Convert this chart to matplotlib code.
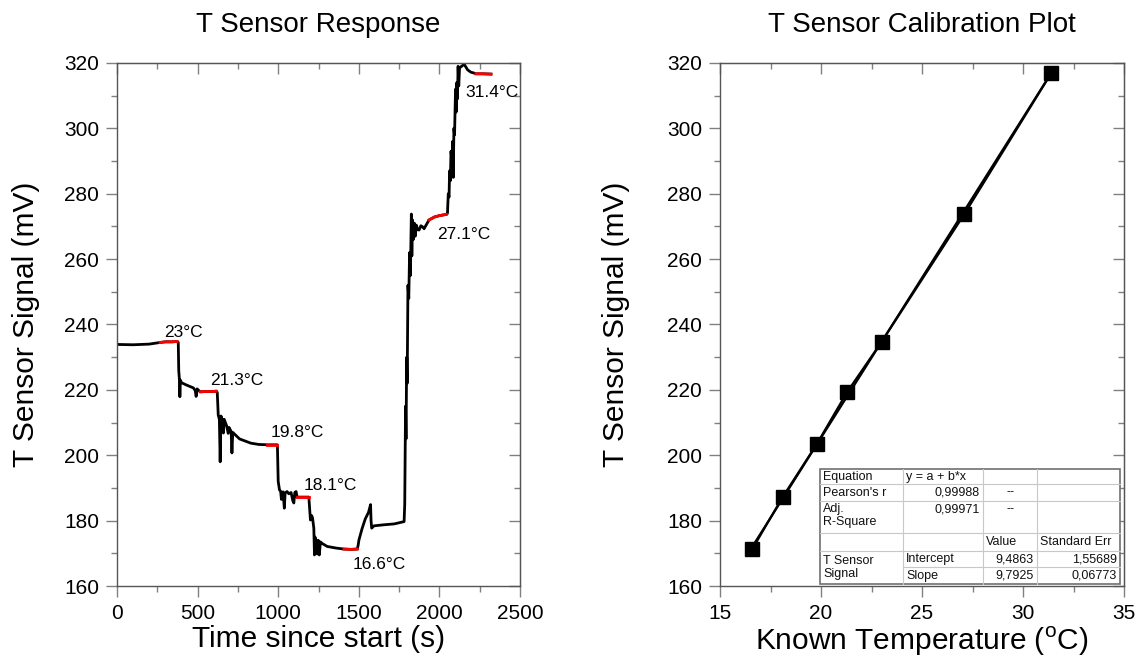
import matplotlib
matplotlib.use('Agg')
import matplotlib.pyplot as plt
from matplotlib.ticker import MultipleLocator, NullFormatter
import numpy as np

plt.rcParams['font.family'] = ['Liberation Sans', 'DejaVu Sans']
plt.rcParams['mathtext.fontset'] = 'custom'
plt.rcParams['mathtext.rm'] = 'Liberation Sans'

# sensor response trace (time in s, signal in mV)
time_s = [0, 100, 200, 267, 300, 340, 373, 380, 383, 388, 390, 393, 400, 430, 474, 485,
          491, 497, 516, 550, 590, 616, 622, 628, 635, 640, 645, 655, 660, 665, 680,
          690, 695, 708, 713, 718, 760, 830, 880, 933, 960, 995, 1000, 1008, 1015,
          1020, 1030, 1038, 1043, 1055, 1066, 1080, 1090, 1097, 1103, 1111, 1117,
          1150, 1190, 1196, 1200, 1208, 1213, 1221, 1225, 1228, 1233, 1242, 1248,
          1255, 1262, 1273, 1304, 1360, 1408, 1450, 1491, 1496, 1501, 1520, 1540,
          1560, 1573, 1576, 1580, 1594, 1650, 1720, 1781, 1785, 1790, 1793, 1797,
          1800, 1805, 1810, 1815, 1820, 1826, 1829, 1833, 1838, 1845, 1850, 1857,
          1865, 1874, 1885, 1895, 1905, 1915, 1936, 1970, 2000, 2044, 2050, 2055,
          2060, 2063, 2068, 2072, 2078, 2082, 2086, 2090, 2094, 2100, 2104, 2108,
          2112, 2116, 2120, 2125, 2135, 2154, 2175, 2195, 2216, 2226, 2270, 2320]
signal_mv = [233.9, 233.8, 234.0, 234.5, 234.7, 234.7, 234.8, 234.5, 226.0, 222.5,
             217.9, 223.0, 222.2, 221.5, 220.6, 219.8, 218.0, 220.3, 219.4, 219.5,
             219.5, 219.6, 219.2, 212.3, 211.0, 198.0, 212.0, 210.5, 206.8, 211.0,
             209.0, 206.7, 208.5, 207.3, 200.7, 207.0, 205.0, 203.7, 203.3, 203.2,
             203.2, 203.2, 192.0, 189.4, 189.0, 186.5, 188.8, 183.8, 188.5, 188.9,
             188.2, 188.6, 186.2, 185.4, 188.6, 188.9, 187.2, 187.2, 187.2, 183.0,
             180.2, 181.5, 180.8, 177.7, 169.5, 175.0, 174.1, 169.8, 174.0, 169.5,
             173.5, 173.0, 172.1, 171.6, 171.3, 171.2, 171.3, 172.5, 174.1, 177.5,
             180.5, 182.5, 184.9, 180.0, 177.7, 178.4, 178.7, 179.0, 179.7, 185.0,
             215.0, 205.0, 230.0, 222.0, 252.0, 248.0, 262.0, 255.0, 273.8, 261.0,
             272.0, 266.0, 271.0, 267.0, 270.4, 269.0, 268.9, 270.2, 269.9, 269.3,
             270.2, 272.0, 272.9, 273.3, 273.7, 274.0, 280.0, 279.0, 287.0, 284.0,
             293.0, 290.0, 296.0, 285.0, 300.0, 298.0, 312.0, 305.0, 314.0, 309.0,
             319.0, 313.0, 318.5, 318.9, 319.6, 317.9, 317.2, 316.9, 316.7, 316.7,
             316.6]

# stable windows used for calibration (red)
plateau_start = [267, 516, 933, 1117, 1408, 1936, 2226]
plateau_end = [373, 616, 995, 1190, 1491, 2044, 2320]
plateau_labels = ['23°C', '21.3°C', '19.8°C', '18.1°C', '16.6°C', '27.1°C', '31.4°C']
label_t = [410, 740, 1119, 1325, 1625, 2152, 2326]
label_v = [237.7, 223.0, 207.1, 190.6, 166.7, 267.4, 311.1]

# calibration points
known_temp = [16.6, 18.1, 19.8, 21.3, 23.0, 27.1, 31.4]
sensor_signal = [171.3, 187.2, 203.5, 219.4, 234.7, 273.8, 316.9]
fit_a = 9.4863
fit_b = 9.7925

table_rows = [['Equation', 'y = a + b*x', '', ''],
              ["Pearson's r", '0,99988', '--', ''],
              ['Adj.\nR-Square', '0,99971', '--', ''],
              ['', '', 'Value', 'Standard Err'],
              ['T Sensor\nSignal', 'Intercept', '9,4863', '1,55689'],
              ['', 'Slope', '9,7925', '0,06773']]

spine_col = '#555555'
tick_col = '#808080'

fig = plt.figure(figsize=(11.46, 6.68), dpi=100)
ax1 = fig.add_axes([117 / 1146, 82 / 668, 403 / 1146, 523 / 668])
ax2 = fig.add_axes([720 / 1146, 82 / 668, 404 / 1146, 523 / 668])


def style_axes(ax, xmaj, xmin):
    for s in ax.spines.values():
        s.set_color(spine_col)
        s.set_linewidth(1)
    ax.xaxis.set_major_locator(MultipleLocator(xmaj))
    ax.xaxis.set_minor_locator(MultipleLocator(xmin))
    ax.yaxis.set_major_locator(MultipleLocator(20))
    ax.yaxis.set_minor_locator(MultipleLocator(10))
    ax.tick_params(which='major', direction='out', length=8, width=1, color=tick_col,
                   labelsize=15, pad=5)
    ax.tick_params(which='minor', direction='out', length=4, width=1, color=tick_col)
    # mirrored ticks, pointing inward
    top = ax.secondary_xaxis('top')
    top.xaxis.set_major_locator(MultipleLocator(xmaj))
    top.xaxis.set_minor_locator(MultipleLocator(xmin))
    top.xaxis.set_major_formatter(NullFormatter())
    top.tick_params(which='major', direction='in', length=8, width=1, color=tick_col)
    top.tick_params(which='minor', direction='in', length=4, width=1, color=tick_col)
    top.spines['top'].set_color(spine_col)
    right = ax.secondary_yaxis('right')
    right.yaxis.set_major_locator(MultipleLocator(20))
    right.yaxis.set_minor_locator(MultipleLocator(10))
    right.yaxis.set_major_formatter(NullFormatter())
    right.tick_params(which='major', direction='in', length=8, width=1, color=tick_col)
    right.tick_params(which='minor', direction='in', length=4, width=1, color=tick_col)
    right.spines['right'].set_color(spine_col)


# left: response over time
t = np.array(time_s)
v = np.array(signal_mv)
ax1.plot(t, v, color='black', lw=2, zorder=2)
for s, e in zip(plateau_start, plateau_end):
    m = (t >= s) & (t <= e)
    ax1.plot(t[m], v[m], color='red', lw=2, zorder=3)
for txt, x, y in zip(plateau_labels, label_t, label_v):
    ax1.text(x, y, txt, fontsize=12.5, ha='center', va='center')
ax1.set_xlim(0, 2500)
ax1.set_ylim(160, 320)
style_axes(ax1, 500, 250)
ax1.set_title('T Sensor Response', fontsize=20, pad=22)
ax1.set_xlabel('Time since start (s)', fontsize=21.5)
ax1.set_ylabel('T Sensor Signal (mV)', fontsize=21.5)
ax1.xaxis.set_label_coords(0.5, -0.074)
ax1.yaxis.set_label_coords(-0.192, 0.5)

# right: calibration
xt = np.array(known_temp)
ax2.plot(xt, sensor_signal, color='black', lw=1.6, marker='s', ms=9.5, zorder=3)
xf = np.array([min(known_temp), max(known_temp)])
ax2.plot(xf, fit_a + fit_b * xf, color='black', lw=1.6, zorder=2)
ax2.set_xlim(15, 35)
ax2.set_ylim(160, 320)
style_axes(ax2, 5, 2.5)
ax2.set_title('T Sensor Calibration Plot', fontsize=20, pad=22)
ax2.set_xlabel('Known Temperature ($^{\\mathregular{o}}$C)', fontsize=21.5)
ax2.set_ylabel('T Sensor Signal (mV)', fontsize=21.5)
ax2.xaxis.set_label_coords(0.5, -0.074)
ax2.yaxis.set_label_coords(-0.222, 0.5)

# fit results table (axes fraction coords)
col_x = [0.2475, 0.453, 0.651, 0.785, 0.990]
row_y = [0.2237, 0.195, 0.1625, 0.1013, 0.0669, 0.0363, 0.0038]
tr = ax2.transAxes
ax2.add_patch(plt.Rectangle((col_x[0], row_y[-1]), col_x[-1] - col_x[0],
                            row_y[0] - row_y[-1], transform=tr, facecolor='white',
                            edgecolor='#707070', lw=1.2, zorder=5))
inner = '#c8c8c8'
for y in row_y[1:-1]:
    x0 = col_x[1] if y == row_y[5] else col_x[0]
    ax2.plot([x0, col_x[-1]], [y, y], transform=tr, color=inner, lw=0.8, zorder=6)
for x in col_x[1:-1]:
    ax2.plot([x, x], [row_y[-1], row_y[0]], transform=tr, color=inner, lw=0.8, zorder=6)

right_cols = {(1, 1), (2, 1), (4, 2), (4, 3), (5, 2), (5, 3)}
for i, row in enumerate(table_rows):
    for j, txt in enumerate(row):
        if not txt:
            continue
        top_y = row_y[i]
        bot_y = row_y[i + 1] if i != 4 or j != 0 else row_y[6]
        if (i, j) in right_cols:
            x, ha = col_x[j + 1] - 0.008, 'right'
        elif txt == '--':
            x, ha = (col_x[j] + col_x[j + 1]) / 2, 'center'
        else:
            x, ha = col_x[j] + 0.008, 'left'
        if i == 2:
            y, va = top_y - 0.004, 'top'
        else:
            y, va = (top_y + bot_y) / 2, 'center'
        ax2.text(x, y, txt, transform=tr, fontsize=9, ha=ha, va=va, zorder=7,
                 linespacing=1.05, color='#111111')

fig.savefig('out.png', dpi=100)
